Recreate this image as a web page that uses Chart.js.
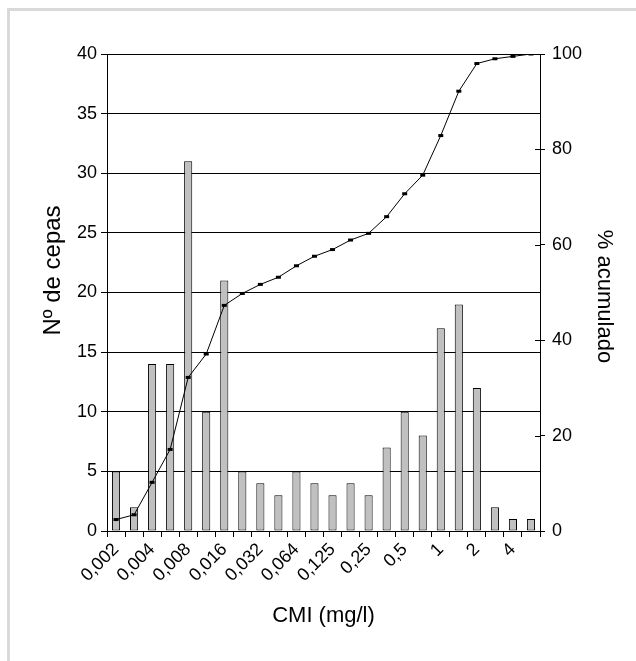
<!DOCTYPE html>
<html>
<head>
<meta charset="utf-8">
<script src="https://cdn.jsdelivr.net/npm/chart.js@4"></script>
<style>
  html, body { margin: 0; padding: 0; background: #fff; overflow: hidden; }
  #wrap { position: relative; width: 636px; height: 661px; overflow: hidden; }
  #frame { position: absolute; left: 7px; top: 8px; width: 660px; height: 680px;
           border-top: 3px solid #d9d9d9; border-left: 3px solid #d9d9d9; }
  canvas { position: absolute; left: 0; top: 0; }
</style>
</head>
<body>
<div id="wrap">
  <div id="frame"></div>
  <canvas id="chart" width="636" height="661"></canvas>
</div>
<script>
// ── Data ──────────────────────────────────────────────────────────
const cmiLabels = ['0,002', '0,003', '0,004', '0,006', '0,008', '0,012', '0,016', '0,023',
                   '0,032', '0,047', '0,064', '0,094', '0,125', '0,19', '0,25', '0,38',
                   '0,5', '0,75', '1', '1,5', '2', '3', '4', '6'];
const nCepas    = [5, 2, 14, 14, 31, 10, 21, 5, 4, 3, 5, 4, 3, 4, 3, 7, 10, 8, 17, 19, 12, 2, 1, 1];
const acumulado = [2.4, 3.4, 10.2, 17.1, 32.2, 37.1, 47.3, 49.8, 51.7, 53.2, 55.6, 57.6,
                   59.0, 61.0, 62.4, 65.9, 70.7, 74.6, 82.9, 92.2, 98.0, 99.0, 99.5, 100];
const titleX  = 'CMI (mg/l)';
const titleY  = 'Nº de cepas';
const titleY1 = '% acumulado';

const FAMILY = "'Liberation Sans', Arial, sans-serif";
Chart.defaults.color = '#000';
Chart.defaults.font = { family: FAMILY, size: 18 };
const TITLE_FONT = { family: FAMILY, size: 22 };

// right axis ticks cross the axis line (inner half drawn here)
const innerTicks = {
  id: 'innerTicks',
  afterDraw(chart) {
    const s = chart.scales.y1, ctx = chart.ctx;
    ctx.save();
    ctx.strokeStyle = '#000';
    ctx.lineWidth = 1;
    s.ticks.forEach(t => {
      const y = Math.round(s.getPixelForValue(t.value)) + 0.5;
      ctx.beginPath();
      ctx.moveTo(s.left - 5, y);
      ctx.lineTo(s.left, y);
      ctx.stroke();
    });
    ctx.restore();
  }
};

// vertical axis titles sit off-centre in the original, so draw them here
const sideTitles = {
  id: 'sideTitles',
  afterDraw(chart) {
    const { ctx, chartArea: a } = chart;
    const midY = (a.top + a.bottom) / 2;
    ctx.save();
    ctx.fillStyle = '#000';
    ctx.textAlign = 'center';
    ctx.textBaseline = 'middle';

    ctx.save();
    ctx.font = `24px ${FAMILY}`;
    ctx.translate(a.left - 54, midY - 22);
    ctx.rotate(-Math.PI / 2);
    ctx.fillText(titleY, 0, 0);
    ctx.restore();

    ctx.save();
    ctx.font = `${TITLE_FONT.size}px ${FAMILY}`;
    ctx.translate(a.right + 64, midY + 4);
    ctx.rotate(Math.PI / 2);
    ctx.fillText(titleY1, 0, 0);
    ctx.restore();

    ctx.restore();
  }
};

new Chart(document.getElementById('chart'), {
  data: {
    labels: cmiLabels,
    datasets: [
      {
        type: 'line',
        label: titleY1,
        data: acumulado,
        yAxisID: 'y1',
        borderColor: '#000',
        borderWidth: 1,
        pointStyle: 'line',
        pointRadius: 2.5,
        pointBorderWidth: 3,
        pointBorderColor: '#000',
        tension: 0,
        order: 0,
      },
      {
        type: 'bar',
        label: titleY,
        data: nCepas,
        yAxisID: 'y',
        backgroundColor: '#c0c0c0',
        borderColor: '#000',
        borderWidth: 1,
        borderSkipped: false,
        categoryPercentage: 1,
        barPercentage: 0.45,
        order: 1,
      },
    ],
  },
  options: {
    responsive: false,
    animation: false,
    layout: { padding: { top: 54, left: 36, right: 20, bottom: 30 } },
    plugins: { legend: { display: false }, tooltip: { enabled: false } },
    scales: {
      x: {
        offset: true,
        grid: { offset: true, drawOnChartArea: false, color: '#000', tickLength: 6 },
        border: { color: '#000' },
        ticks: {
          autoSkip: false, minRotation: 45, maxRotation: 45, padding: 2,
          callback: (v, i) => (i % 2 === 0 ? cmiLabels[i] : ''),
        },
        title: { display: true, text: titleX, font: TITLE_FONT, padding: { top: 0, bottom: 2 } },
        afterFit: s => { s.height = 661 - 30 - 531; },
      },
      y: {
        position: 'left',
        min: 0, max: 40,
        grid: { color: '#000', tickLength: 6 },
        border: { color: '#000' },
        ticks: { stepSize: 5, padding: 4 },
        afterFit: s => { s.width = 107 - 36; },
      },
      y1: {
        position: 'right',
        min: 0, max: 100,
        grid: { drawOnChartArea: false, color: '#000', tickLength: 5 },
        border: { color: '#000' },
        ticks: { stepSize: 20, padding: 7 },
        afterFit: s => { s.width = 636 - 20 - 540; },
      },
    },
  },
  plugins: [innerTicks, sideTitles],
});
</script>
</body>
</html>
